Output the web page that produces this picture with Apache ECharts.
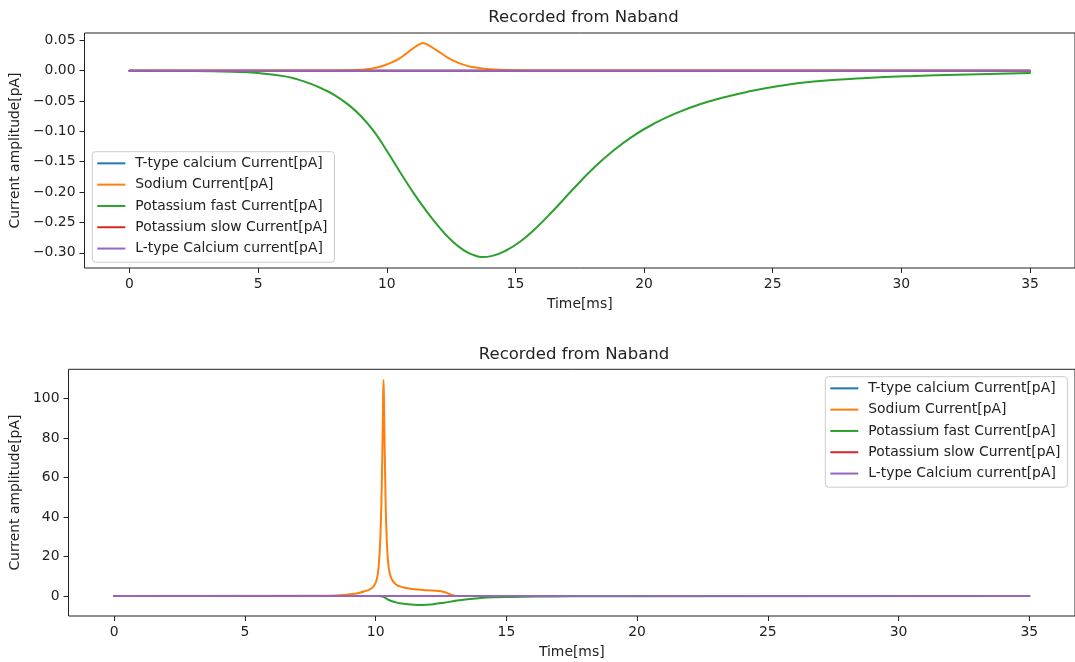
<!DOCTYPE html>
<html>
<head>
<meta charset="utf-8">
<script src="https://cdn.jsdelivr.net/npm/echarts@6/dist/echarts.min.js"></script>
<style>
  html, body { margin: 0; padding: 0; background: #ffffff; }
  #chart { width: 1075px; height: 662px; }
</style>
</head>
<body>
<div id="chart"></div>
<script>
// ---- labels ----
const panelTitle = 'Recorded from Naband';
const xAxisName = 'Time[ms]';
const yAxisName = 'Current amplitude[pA]';
const seriesNames = [
  'T-type calcium Current[pA]',
  'Sodium Current[pA]',
  'Potassium fast Current[pA]',
  'Potassium slow Current[pA]',
  'L-type Calcium current[pA]'
];

// ---- tick labels ----
const xTicks = [0, 5, 10, 15, 20, 25, 30, 35];
const yTicksTop = [0.05, 0.00, -0.05, -0.10, -0.15, -0.20, -0.25, -0.30];
const yTicksBottom = [0, 20, 40, 60, 80, 100];

// ---- upper panel: currents (pA) vs time (ms) ----
const topFlatTime = [0, 35];
const topTTypeValues = [0, 0];
const topKSlowValues = [0, 0];
const topLTypeValues = [0, 0];

const topSodiumTime = [0, 8.0, 8.8, 9.3, 9.7, 10.1, 10.45, 10.8, 11.1, 11.3, 11.4, 11.5, 11.7, 11.9, 12.1, 12.4, 12.7, 13.0, 13.4, 13.8, 14.3, 15.0, 16.0, 35];
const topSodiumValues = [0, 0.0003, 0.001, 0.0028, 0.006, 0.012, 0.019, 0.0295, 0.039, 0.044, 0.0455, 0.0445, 0.040, 0.0345, 0.029, 0.0205, 0.0145, 0.0095, 0.0055, 0.003, 0.0015, 0.0005, 0.0001, 0];

const topKFastTime = [0, 2, 4, 5, 6, 6.5, 7, 7.5, 8, 8.5, 9, 9.5, 10, 10.5, 11, 11.5, 12, 12.5, 13, 13.4, 13.7, 14.1, 14.6, 15.2, 15.8, 16.5, 17.2, 18.0, 18.8, 19.6, 20.4, 21.3, 22.2, 23.2, 24.0, 25.3, 26.6, 28.5, 30.5, 33, 35];
const topKFastValues = [0, -0.0005, -0.002, -0.004, -0.009, -0.014, -0.021, -0.030, -0.041, -0.056, -0.075, -0.100, -0.132, -0.166, -0.199, -0.229, -0.256, -0.279, -0.296, -0.304, -0.307, -0.305, -0.297, -0.281, -0.259, -0.229, -0.197, -0.162, -0.132, -0.107, -0.087, -0.069, -0.055, -0.043, -0.035, -0.025, -0.018, -0.0125, -0.0088, -0.0058, -0.0038];

// ---- lower panel ----
const bottomFlatTime = [0, 35];
const bottomTTypeValues = [0, 0];
const bottomKSlowValues = [0, 0];
const bottomLTypeValues = [0, 0];

const bottomSodiumTime = [0, 8.0, 8.6, 9.0, 9.35, 9.6, 9.8, 9.95, 10.05, 10.12, 10.18, 10.23, 10.27, 10.30, 10.33, 10.37, 10.42, 10.5, 10.6, 10.75, 10.9, 11.1, 11.4, 11.8, 12.2, 12.5, 12.7, 12.85, 13.0, 13.15, 35];
const bottomSodiumValues = [0, 0.1, 0.4, 0.9, 1.6, 2.5, 3.6, 5.5, 9, 16, 30, 55, 85, 109.5, 88, 55, 30, 14, 9, 6.2, 5.0, 4.2, 3.6, 3.1, 2.8, 2.4, 1.7, 0.9, 0.3, 0, 0];

const bottomKFastTime = [0, 10.1, 10.2, 10.35, 10.5, 10.75, 11.0, 11.4, 11.8, 12.2, 12.6, 13.0, 13.5, 14.0, 14.5, 15.2, 16.2, 17.5, 19, 35];
const bottomKFastValues = [0, 0, -0.1, -0.8, -2.0, -3.1, -3.8, -4.3, -4.5, -4.1, -3.4, -2.5, -1.6, -1.0, -0.65, -0.45, -0.28, -0.1, -0.03, 0];

// ---- styling ----
const FONT = 'DejaVu Sans';
const INK = '#222222';
const palette = ['#1f77b4', '#ff7f0e', '#2ca02c', '#d62728', '#9467bd'];

function pairs(t, v) { return t.map((x, i) => [x, v[i]]); }
function fmtSigned(v, digits) {
  return v.toFixed(digits).replace('-', '\u2212');
}

function makeSeries(panelIndex, timeList, valueList) {
  return seriesNames.map((name, i) => ({
    name: name,
    type: 'line',
    xAxisIndex: panelIndex,
    yAxisIndex: panelIndex,
    data: pairs(timeList[i], valueList[i]),
    showSymbol: false,
    symbol: 'none',
    smooth: 0.5,
    color: palette[i],
    lineStyle: { width: 2, color: palette[i], cap: 'round', join: 'round' },
    emphasis: { disabled: true },
    animation: false,
    z: 2 + i
  }));
}

function xAxisFor(gridIndex) {
  return {
    gridIndex: gridIndex,
    type: 'value',
    min: -1.75,
    max: 36.75,
    name: xAxisName,
    nameLocation: 'middle',
    nameGap: 29,
    nameTextStyle: { fontFamily: FONT, fontSize: 13.9, color: INK },
    axisLine: { show: false, onZero: false },
    splitLine: { show: false },
    axisTick: { show: true, length: 5, customValues: xTicks, lineStyle: { color: INK, width: 1 } },
    axisLabel: {
      customValues: xTicks, margin: 9,
      fontFamily: FONT, fontSize: 13.9, color: INK,
      formatter: v => String(v)
    }
  };
}

function yAxisFor(gridIndex, min, max, ticks, digits, gap) {
  return {
    gridIndex: gridIndex,
    type: 'value',
    min: min,
    max: max,
    name: yAxisName,
    nameLocation: 'middle',
    nameGap: gap,
    nameTextStyle: { fontFamily: FONT, fontSize: 13.9, color: INK },
    axisLine: { show: false, onZero: false },
    splitLine: { show: false },
    axisTick: { show: true, length: 5, customValues: ticks, lineStyle: { color: INK, width: 1 } },
    axisLabel: {
      customValues: ticks, margin: 9,
      fontFamily: FONT, fontSize: 13.9, color: INK,
      formatter: v => fmtSigned(v, digits)
    }
  };
}

function legendFor(left, top) {
  return {
    orient: 'vertical',
    left: left,
    top: top,
    data: seriesNames,
    icon: 'rect',
    itemWidth: 28,
    itemHeight: 2,
    itemGap: 0,
    selectedMode: false,
    padding: [1, 7, 3, 5],
    backgroundColor: 'rgba(255,255,255,0.8)',
    borderColor: '#cccccc',
    borderWidth: 1,
    borderRadius: 3,
    textStyle: { fontFamily: FONT, fontSize: 13.9, color: INK, lineHeight: 21.3, padding: [0, 0, 0, 5] }
  };
}

const chart = echarts.init(document.getElementById('chart'), null, { renderer: 'canvas' });

chart.setOption({
  backgroundColor: '#ffffff',
  animation: false,
  title: [
    { text: panelTitle, left: 583.5, top: 9, textAlign: 'center', padding: 0,
      textStyle: { fontFamily: FONT, fontSize: 16.5, fontWeight: 'normal', color: INK } },
    { text: panelTitle, left: 574, top: 346.5, textAlign: 'center', padding: 0,
      textStyle: { fontFamily: FONT, fontSize: 16.5, fontWeight: 'normal', color: INK } }
  ],
  grid: [
    { left: 84.5, top: 33, width: 998, height: 235, show: true, borderColor: INK, borderWidth: 1, backgroundColor: 'transparent', containLabel: false },
    { left: 68.5, top: 369.3, width: 1011, height: 246.7, show: true, borderColor: INK, borderWidth: 1, backgroundColor: 'transparent', containLabel: false }
  ],
  legend: [legendFor(92.3, 151.7), legendFor(825.3, 376.7)],
  xAxis: [xAxisFor(0), xAxisFor(1)],
  yAxis: [
    yAxisFor(0, -0.325, 0.062, yTicksTop, 2, 58),
    yAxisFor(1, -10.1, 114.9, yTicksBottom, 0, 41)
  ],
  series: [].concat(
    makeSeries(0,
      [topFlatTime, topSodiumTime, topKFastTime, topFlatTime, topFlatTime],
      [topTTypeValues, topSodiumValues, topKFastValues, topKSlowValues, topLTypeValues]),
    makeSeries(1,
      [bottomFlatTime, bottomSodiumTime, bottomKFastTime, bottomFlatTime, bottomFlatTime],
      [bottomTTypeValues, bottomSodiumValues, bottomKFastValues, bottomKSlowValues, bottomLTypeValues])
  )
});
</script>
</body>
</html>
